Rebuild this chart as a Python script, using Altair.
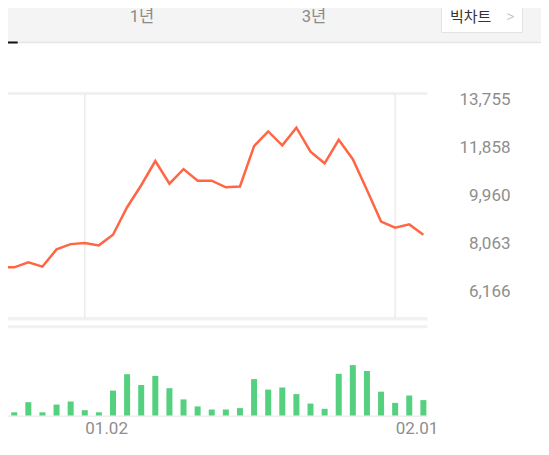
import altair as alt
import pandas as pd

# ---- data ----
dates = ["12.20", "12.21", "12.22", "12.26", "12.27", "12.28", "01.02", "01.03",
         "01.04", "01.05", "01.08", "01.09", "01.10", "01.11", "01.12", "01.15",
         "01.16", "01.17", "01.18", "01.19", "01.22", "01.23", "01.24", "01.25",
         "01.26", "01.29", "01.30", "01.31", "02.01", "02.02", "02.05"]
prices = [7130, 7130, 7330, 7160, 7840, 8050, 8090, 8000, 8420, 9510, 10380,
          11340, 10440, 11020, 10560, 10560, 10300, 10330, 11930, 12510, 11960,
          12660, 11710, 11250, 12180, 11410, 10190, 8940, 8700, 8830, 8420]
volumes = [250000, 320000, 1330000, 320000, 1090000, 1400000, 530000, 320000,
           2490000, 4130000, 3050000, 3960000, 2730000, 1610000, 910000, 600000,
           600000, 740000, 3640000, 2590000, 2800000, 2140000, 1190000, 670000,
           4170000, 5040000, 4450000, 2380000, 1260000, 2000000, 1540000]
tick_labels = ["01.02", "02.01"]
y_ticks = [6166, 8063, 9960, 11858, 13755]
tabs = ["1년", "3년"]
big_chart = "빅차트"

FONT = "Roboto, 'Noto Sans CJK KR', sans-serif"
M = 8                      # page margin: page coordinate -> plot coordinate
W, H = 549 - 2 * M, 455 - 2 * M - 4   # keep the page from overflowing


def p(v):
    return v - M


idx = list(range(-1, len(dates) - 1))
df = pd.DataFrame({"k": idx, "date": dates, "price": prices, "vol": volumes})
tick_pos = [idx[dates.index(t)] for t in tick_labels]
grid_df = pd.DataFrame({"k": tick_pos})
label_expr = " : ".join(f"datum.value == {q} ? '{t}'" for q, t in zip(tick_pos, tick_labels)) + " : ''"

dummy = pd.DataFrame({"a": [0]})
xscale = alt.Scale(domain=[-0.654, 37.55], range=[p(0), p(549)], nice=False, zero=False)
x_axis = alt.Axis(orient="bottom", values=tick_pos, labelExpr=label_expr,
                  offset=p(428.5) - H, labelAlign="left", labelBaseline="middle",
                  labelPadding=0, ticks=False, tickSize=0, domain=False,
                  grid=False, title=None, labelFont=FONT, labelFontSize=17,
                  labelColor="#8e8e8e", labelFlush=False, labelOverlap=False)
X = alt.X("k:Q", scale=xscale, axis=x_axis)

# ---- header bar ----
bar_bg = alt.Chart(dummy).mark_rect(color="#f4f4f4").encode(
    x=alt.value(p(0)), x2=alt.value(p(549)), y=alt.value(p(0)), y2=alt.value(p(42)))
bar_border = alt.Chart(dummy).mark_rule(color="#e6e6e6", strokeWidth=1.5).encode(
    x=alt.value(p(0)), x2=alt.value(p(549)), y=alt.value(p(42.5)))
indicator = alt.Chart(dummy).mark_rule(color="#111111", strokeWidth=2).encode(
    x=alt.value(p(0)), x2=alt.value(p(17.7)), y=alt.value(p(42.5)))
tab1 = alt.Chart(dummy).mark_text(font=FONT, fontSize=16.5, color="#8a8a8a",
                                  align="center", baseline="middle").encode(
    x=alt.value(p(142)), y=alt.value(p(17)), text=alt.value(tabs[0]))
tab2 = alt.Chart(dummy).mark_text(font=FONT, fontSize=16.5, color="#8a8a8a",
                                  align="center", baseline="middle").encode(
    x=alt.value(p(314)), y=alt.value(p(17)), text=alt.value(tabs[1]))
box = alt.Chart(dummy).mark_rect(fill="white", stroke="#e3e3e3", strokeWidth=1).encode(
    x=alt.value(p(441.5)), x2=alt.value(p(522.5)), y=alt.value(p(-2)), y2=alt.value(p(32.5)))
box_text = alt.Chart(dummy).mark_text(font=FONT, fontSize=15, color="#333333",
                                      align="left", baseline="middle").encode(
    x=alt.value(p(450)), y=alt.value(p(16.8)), text=alt.value(big_chart))
chevron = alt.Chart(dummy).mark_text(font=FONT, fontSize=16, color="#bbbbbb",
                                     fontWeight=300, align="center", baseline="middle").encode(
    x=alt.value(p(510.5)), y=alt.value(p(17)), text=alt.value(">"))

# ---- frame lines ----
top_line = alt.Chart(dummy).mark_rule(color="#f1f1f1", strokeWidth=3).encode(
    x=alt.value(p(0)), x2=alt.value(p(427.3)), y=alt.value(p(93.6)))
bottom_line = alt.Chart(dummy).mark_rule(color="#f1f1f1", strokeWidth=3.5).encode(
    x=alt.value(p(0)), x2=alt.value(p(427.3)), y=alt.value(p(318.8)))
vol_top_line = alt.Chart(dummy).mark_rule(color="#f1f1f1", strokeWidth=3).encode(
    x=alt.value(p(0)), x2=alt.value(p(427.3)), y=alt.value(p(326.7)))
vol_base = alt.Chart(dummy).mark_rule(color="#eeeeee", strokeWidth=1.5).encode(
    x=alt.value(p(0)), x2=alt.value(p(427.3)), y=alt.value(p(416.3)))
vgrid = alt.Chart(grid_df).mark_rule(color="#ececec", strokeWidth=1.5).encode(
    x=X, y=alt.value(p(93.6)), y2=alt.value(p(318)))

# ---- price line ----
line = alt.Chart(df).mark_line(color="#ff6645", strokeWidth=2.5).encode(
    x=X,
    y=alt.Y("price:Q",
            scale=alt.Scale(domain=[5085.2, 14012.3], range=[p(319), p(93.5)],
                            nice=False, zero=False),
            axis=alt.Axis(orient="right", values=y_ticks, format=",.0f",
                          offset=p(510) - W, labelAlign="right", labelBaseline="middle",
                          labelPadding=0, ticks=False, tickSize=0, domain=False,
                          grid=False, title=None, labelFont=FONT, labelFontSize=17,
                          labelColor="#8e8e8e", labelFlush=False, labelOverlap=False)))

# ---- volume bars ----
vol = alt.Chart(df).mark_bar(size=6, color="#55d07f").encode(
    x=X,
    y=alt.Y("vol:Q", scale=alt.Scale(domain=[0, 6000000], range=[p(415.5), p(355.5)],
                                     nice=False, zero=False), axis=None))

chart = alt.layer(
    bar_bg, bar_border, indicator, tab1, tab2, box, box_text, chevron,
    top_line, bottom_line, vol_top_line, vol_base, vgrid, line, vol
).resolve_scale(y="independent").properties(
    width=W, height=H,
    padding=0,
    autosize=alt.AutoSizeParams(type="none"),
    background="white",
).configure_view(strokeWidth=0)

chart.save("out.html", embed_options={"renderer": "svg", "actions": False})
